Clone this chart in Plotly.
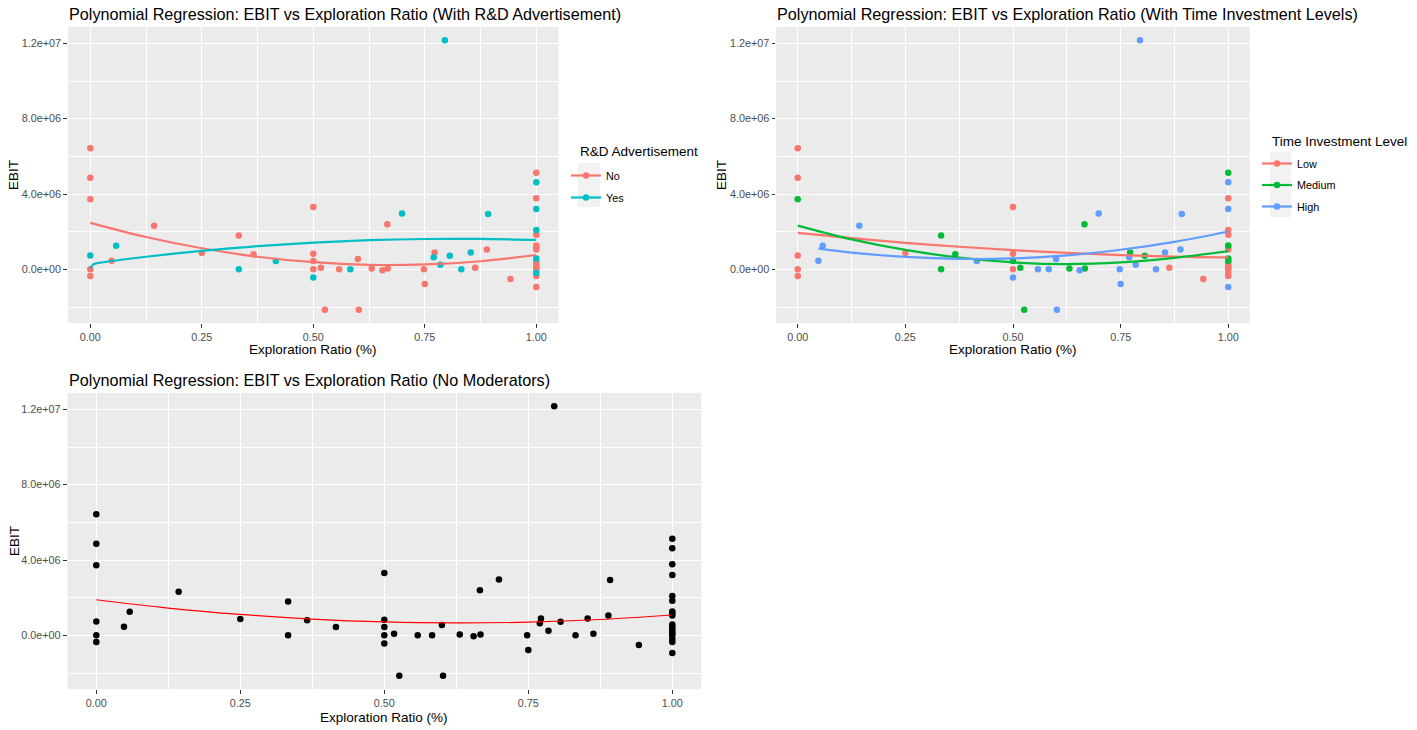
import plotly.graph_objects as go

W, H = 1417, 730

# ---------------- data (EBIT in millions) ----------------
x_ratio = [0, 0, 0, 0, 0, 0, 0.048, 0.058, 0.143, 0.25, 0.333, 0.333, 0.366, 0.416,
           0.5, 0.5, 0.5, 0.5, 0.5, 0.517, 0.526, 0.558, 0.583, 0.600, 0.602, 0.631,
           0.655, 0.666, 0.667, 0.699, 0.748, 0.750, 0.770, 0.772, 0.785, 0.795, 0.806,
           0.832, 0.853, 0.863, 0.889, 0.892, 0.942,
           1, 1, 1, 1, 1, 1, 1, 1, 1, 1, 1, 1, 1, 1, 1, 1, 1, 1]
ebit_m = [6.43, 4.87, 3.72, 0.74, 0.00, -0.35, 0.46, 1.25, 2.32, 0.87, 1.80, 0.00, 0.80, 0.44,
          3.31, 0.83, 0.44, 0.00, -0.43, 0.09, -2.14, 0.00, 0.00, 0.55, -2.14, 0.05,
          -0.05, 2.39, 0.04, 2.97, 0.00, -0.78, 0.64, 0.90, 0.25, 12.16, 0.72,
          0.00, 0.90, 0.09, 1.06, 2.94, -0.51,
          5.13, 4.62, 3.77, 3.20, 2.09, 1.84, 1.27, 1.17, 1.06, 0.58, 0.46, 0.34, 0.21, 0.10,
          0.00, -0.20, -0.35, -0.94]
rd_adv = ["No", "No", "No", "Yes", "No", "No", "No", "Yes", "No", "No", "No", "Yes", "No", "Yes",
          "No", "No", "No", "No", "Yes", "No", "No", "No", "Yes", "No", "No", "No",
          "No", "No", "No", "Yes", "No", "No", "Yes", "No", "Yes", "Yes", "Yes",
          "Yes", "Yes", "No", "No", "Yes", "No",
          "No", "Yes", "No", "Yes", "Yes", "No", "No", "No", "No", "Yes", "No", "No", "No", "No",
          "No", "Yes", "No", "No"]
time_level = ["Low", "Low", "Medium", "Low", "Low", "Low", "High", "High", "High", "Low", "Medium", "Medium", "Medium", "High",
              "Low", "Low", "Medium", "Low", "High", "Medium", "Medium", "High", "High", "High", "High", "Medium",
              "High", "Medium", "Medium", "High", "High", "High", "High", "Medium", "High", "High", "Medium",
              "High", "High", "Low", "High", "High", "Low",
              "Medium", "High", "Low", "High", "Low", "Low", "Medium", "Low", "Low", "Medium", "Medium", "Low", "Low", "Low",
              "Low", "Low", "Low", "High"]

# fitted curves (millions)
fit_grid = [0, 0.125, 0.25, 0.375, 0.5, 0.625, 0.75, 0.875, 1]
fit_no = [2.47, 1.72, 1.12, 0.67, 0.38, 0.24, 0.26, 0.43, 0.76]
fit_yes_x = [0, 0.007, 0.022, 0.125, 0.25, 0.375, 0.5, 0.625, 0.75, 0.875, 1]
fit_yes = [0.06, 0.27, 0.35, 0.67, 0.98, 1.23, 1.42, 1.55, 1.61, 1.62, 1.56]
fit_low = [1.94, 1.66, 1.41, 1.20, 1.02, 0.87, 0.76, 0.68, 0.64]
fit_medium = [2.32, 1.59, 1.03, 0.62, 0.37, 0.28, 0.37, 0.61, 0.97]
fit_high_x = [0.048, 0.125, 0.25, 0.375, 0.5, 0.625, 0.75, 0.875, 1]
fit_high = [1.10, 0.89, 0.66, 0.555, 0.58, 0.74, 1.04, 1.46, 2.01]
fit_all = [1.89, 1.45, 1.11, 0.86, 0.71, 0.66, 0.70, 0.84, 1.08]

x_ticks = [0, 0.25, 0.5, 0.75, 1.0]
x_tick_text = ["0.00", "0.25", "0.50", "0.75", "1.00"]
y_ticks = [0, 4e6, 8e6, 1.2e7]
y_tick_text = ["0.0e+00", "4.0e+06", "8.0e+06", "1.2e+07"]

rd_levels = ["No", "Yes"]
rd_colors = {"No": "#F8766D", "Yes": "#00BFC4"}
time_levels = ["Low", "Medium", "High"]
time_colors = {"Low": "#F8766D", "Medium": "#00BA38", "High": "#619CFF"}

M = 1e6
ebit = [v * M for v in ebit_m]
FONT = "Liberation Sans, Arial, sans-serif"
PT = 6.5
LW = 2.2

fig = go.Figure()

# ---------- panel 1 ----------
for lv in rd_levels:
    xs = [x for x, g in zip(x_ratio, rd_adv) if g == lv]
    ys = [y for y, g in zip(ebit, rd_adv) if g == lv]
    fig.add_trace(go.Scatter(x=xs, y=ys, mode="markers", xaxis="x", yaxis="y",
                             marker=dict(color=rd_colors[lv], size=PT, line=dict(width=0)),
                             showlegend=False))
fig.add_trace(go.Scatter(x=fit_grid, y=[v * M for v in fit_no], mode="lines", xaxis="x", yaxis="y",
                         line=dict(color=rd_colors["No"], width=LW, shape="spline"), showlegend=False))
fig.add_trace(go.Scatter(x=fit_yes_x, y=[v * M for v in fit_yes], mode="lines", xaxis="x", yaxis="y",
                         line=dict(color=rd_colors["Yes"], width=LW, shape="spline", smoothing=0.6),
                         showlegend=False))
for lv in rd_levels:
    fig.add_trace(go.Scatter(x=[None], y=[None], mode="lines+markers", name=lv, legend="legend",
                             legendgroup="rd" + lv, xaxis="x", yaxis="y",
                             line=dict(color=rd_colors[lv], width=LW),
                             marker=dict(color=rd_colors[lv], size=PT)))

# ---------- panel 2 ----------
for lv in time_levels:
    xs = [x for x, g in zip(x_ratio, time_level) if g == lv]
    ys = [y for y, g in zip(ebit, time_level) if g == lv]
    fig.add_trace(go.Scatter(x=xs, y=ys, mode="markers", xaxis="x2", yaxis="y2",
                             marker=dict(color=time_colors[lv], size=PT, line=dict(width=0)),
                             showlegend=False))
for lv, fx, fy in [("Low", fit_grid, fit_low), ("Medium", fit_grid, fit_medium), ("High", fit_high_x, fit_high)]:
    fig.add_trace(go.Scatter(x=fx, y=[v * M for v in fy], mode="lines", xaxis="x2", yaxis="y2",
                             line=dict(color=time_colors[lv], width=LW, shape="spline"), showlegend=False))
for lv in time_levels:
    fig.add_trace(go.Scatter(x=[None], y=[None], mode="lines+markers", name=lv, legend="legend2",
                             legendgroup="t" + lv, xaxis="x2", yaxis="y2",
                             line=dict(color=time_colors[lv], width=LW),
                             marker=dict(color=time_colors[lv], size=PT)))

# ---------- panel 3 ----------
fig.add_trace(go.Scatter(x=x_ratio, y=ebit, mode="markers", xaxis="x3", yaxis="y3",
                         marker=dict(color="black", size=PT, line=dict(width=0)), showlegend=False))
fig.add_trace(go.Scatter(x=fit_grid, y=[v * M for v in fit_all], mode="lines", xaxis="x3", yaxis="y3",
                         line=dict(color="#FF0000", width=1.2, shape="spline"), showlegend=False))

def xax(dom, anchor):
    return dict(domain=dom, anchor=anchor, range=[-0.05, 1.05], tickmode="array",
                tickvals=x_ticks, ticktext=x_tick_text, showgrid=True, gridcolor="white",
                gridwidth=1.1, zeroline=False, ticks="outside", ticklen=3.7, tickwidth=1.1,
                tickcolor="#333333", tickfont=dict(size=10.8, color="#4D4D4D", family=FONT),
                minor=dict(tickvals=[0.125, 0.375, 0.625, 0.875], showgrid=True,
                           gridcolor="white", gridwidth=0.55, ticks=""),
                showline=False, fixedrange=True)

def yax(dom, anchor):
    return dict(domain=dom, anchor=anchor, range=[-2.855e6, 12.875e6], tickmode="array",
                tickvals=y_ticks, ticktext=y_tick_text, showgrid=True, gridcolor="white",
                gridwidth=1.1, zeroline=False, ticks="outside", ticklen=3.7, tickwidth=1.1,
                tickcolor="#333333", tickfont=dict(size=10.8, color="#4D4D4D", family=FONT),
                minor=dict(tickvals=[-2e6, 2e6, 6e6, 1e7], showgrid=True,
                           gridcolor="white", gridwidth=0.55, ticks=""),
                showline=False, fixedrange=True)

top_dom = [1 - 323.1 / H, 1 - 26.9 / H]
bot_dom = [1 - 689.1 / H, 1 - 392.9 / H]

annotations = []
def txt(t, px, py, size, xanchor="left", angle=0, color="black"):
    annotations.append(dict(text=t, x=px / W, y=1 - py / H, xref="paper", yref="paper",
                            xanchor=xanchor, yanchor="middle", showarrow=False, textangle=angle,
                            font=dict(size=size, color=color, family=FONT)))

txt("Polynomial Regression: EBIT vs Exploration Ratio (With R&amp;D Advertisement)", 67, 14, 16.2)
txt("Polynomial Regression: EBIT vs Exploration Ratio (With Time Investment Levels)", 775, 14, 16.2)
txt("Polynomial Regression: EBIT vs Exploration Ratio (No Moderators)", 67, 380, 16.2)
txt("Exploration Ratio (%)", 313.3, 349, 13.5, "center")
txt("Exploration Ratio (%)", 1013, 349, 13.5, "center")
txt("Exploration Ratio (%)", 384.3, 717, 13.5, "center")
txt("EBIT", 14, 175, 13.5, "center", -90)
txt("EBIT", 722, 175, 13.5, "center", -90)
txt("EBIT", 14, 541, 13.5, "center", -90)
# legend titles
txt("R&amp;D Advertisement", 578, 151, 13.5)
txt("Time Investment Level", 1270, 141, 13.5)

shapes = [
    dict(type="rect", xref="paper", yref="paper", x0=578 / W, x1=600 / W, y0=1 - 207 / H, y1=1 - 163 / H,
         fillcolor="#F2F2F2", line=dict(width=0), layer="below"),
    dict(type="rect", xref="paper", yref="paper", x0=1270 / W, x1=1291 / W, y0=1 - 217 / H, y1=1 - 152 / H,
         fillcolor="#F2F2F2", line=dict(width=0), layer="below"),
]

leg_common = dict(bgcolor="rgba(0,0,0,0)", borderwidth=0, xanchor="left", yanchor="top",
                  traceorder="grouped", itemwidth=30,
                  font=dict(size=10.8, color="black", family=FONT))

fig.update_layout(
    width=W, height=H, autosize=False,
    margin=dict(l=0, r=0, t=0, b=0),
    paper_bgcolor="white", plot_bgcolor="#EBEBEB",
    font=dict(family=FONT),
    xaxis=xax([68 / W, 558.6 / W], "y"), yaxis=yax(top_dom, "x"),
    xaxis2=xax([776.2 / W, 1249.8 / W], "y2"), yaxis2=yax(top_dom, "x2"),
    xaxis3=xax([67.5 / W, 701.1 / W], "y3"), yaxis3=yax(bot_dom, "x3"),
    legend=dict(x=566 / W, y=1 - 161 / H, tracegroupgap=3, **leg_common),
    legend2=dict(x=1257 / W, y=1 - 149 / H, tracegroupgap=2.5, **leg_common),
    annotations=annotations, shapes=shapes,
    showlegend=True,
)

fig.write_html("out.html", config={"displayModeBar": False},
               post_script="document.body.style.margin='0px';document.body.style.overflow='hidden';")
